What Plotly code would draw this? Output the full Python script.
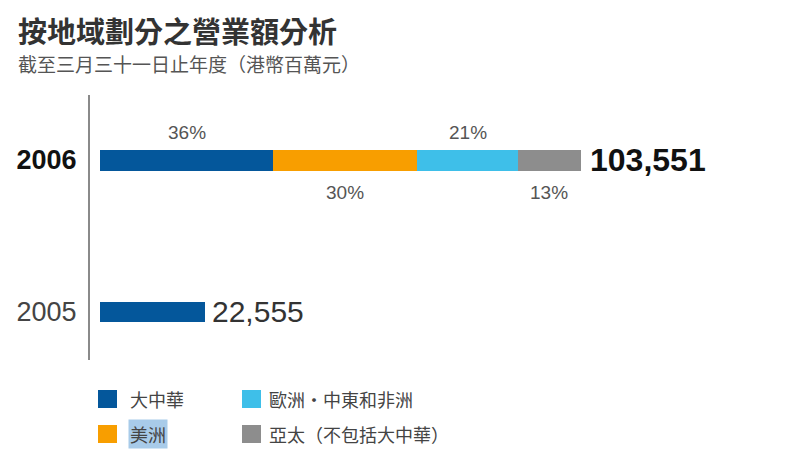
import plotly.graph_objects as go

# data
years = ["2005", "2006"]
regions = ["大中華", "美洲", "歐洲・中東和非洲", "亞太（不包括大中華）"]
totals = [22555, 103551]
pct_2006 = [36, 30, 21, 13]
colors = ["#04579b", "#f89e00", "#3ebfe9", "#8d8d8d"]

OFF = 8  # page body margin
W, H = 800, 470
L, R, T, B = 90 - OFF, 10, 95 - OFF, 110 + OFF
FONT = "Liberation Sans, Noto Sans CJK TC, sans-serif"
CJK = "Noto Sans CJK TC, sans-serif"


def px(x, y):
    """window pixel position -> paper coordinates"""
    x, y = x - OFF, y - OFF
    return (x - L) / (W - L - R), (H - B - y) / (H - T - B)


# segment values: 2005 only Greater China, 2006 split by share
seg = {regions[0]: [totals[0], totals[1] * pct_2006[0] / 100]}
for i, r in enumerate(regions[1:], start=1):
    seg[r] = [0, totals[1] * pct_2006[i] / 100]

fig = go.Figure()
for r, c in zip(regions, colors):
    fig.add_trace(go.Bar(y=years, x=seg[r], orientation="h", name=r,
                         marker=dict(color=c, line_width=0), width=0.138,
                         showlegend=False, hoverinfo="x+name"))

annotations = []
# percentage labels, alternating above / below
left = 0
for i, r in enumerate(regions):
    v = seg[r][1]
    annotations.append(dict(x=left + v / 2, y=1, xref="x", yref="y",
                            text=f"{pct_2006[i]}%", showarrow=False,
                            yshift=28 if i % 2 == 0 else -32,
                            font=dict(family=FONT, size=19, color="#555555")))
    left += v

# totals at bar ends
annotations.append(dict(x=totals[1], y=1, xref="x", yref="y", text=f"<b>{totals[1]:,}</b>",
                        showarrow=False, xanchor="left", xshift=7,
                        font=dict(family=FONT, size=32, color="#111111")))
annotations.append(dict(x=totals[0], y=0, xref="x", yref="y", text=f"{totals[0]:,}",
                        showarrow=False, xanchor="left", xshift=5,
                        font=dict(family=FONT, size=30, color="#333333")))

# title and subtitle
x0, y0 = px(17, OFF)
annotations.append(dict(x=x0, y=y0, xref="paper", yref="paper", xanchor="left", yanchor="top",
                        text="<b>按地域劃分之營業額分析</b>", showarrow=False, borderpad=0,
                        font=dict(family=CJK, size=29, color="#333333")))
x0, y0 = px(17, 63)
annotations.append(dict(x=x0, y=y0, xref="paper", yref="paper", xanchor="left", yanchor="middle",
                        text="截至三月三十一日止年度（港幣百萬元）", showarrow=False, borderpad=0,
                        font=dict(family=CJK, size=19, color="#555555")))

# legend: 2 x 2 grid of swatches
shapes = []
spots = [(98, 399), (98, 434), (242, 399), (242, 434)]
for (sx, sy), r, c in zip(spots, regions, colors):
    a0, b0 = px(sx, sy - 9)
    a1, b1 = px(sx + 19, sy + 9)
    shapes.append(dict(type="rect", xref="paper", yref="paper", x0=a0, x1=a1, y0=b0, y1=b1,
                       fillcolor=c, line_width=0))
    tx, ty = px(sx + (30 if sx < 200 else 25), sy)
    annotations.append(dict(x=tx, y=ty, xref="paper", yref="paper", xanchor="left", yanchor="middle",
                            text=r, showarrow=False,
                            bgcolor="#a8cbe9" if r == "美洲" else None,
                            font=dict(family=CJK, size=18, color="#444444")))

fig.update_layout(
    width=W, height=H,
    margin=dict(l=L, r=R, t=T, b=B),
    paper_bgcolor="white", plot_bgcolor="white",
    barmode="stack",
    xaxis=dict(range=[-2180, 150420], visible=False, fixedrange=True),
    yaxis=dict(type="category", range=[-0.316, 1.428], showgrid=False, zeroline=False,
               showline=True, linecolor="#8a8a8a", linewidth=2,
               tickvals=years,
               ticktext=["<span style='color:#444444'>2005</span>", "<b>2006</b>"],
               ticklabelstandoff=6,
               tickfont=dict(family=FONT, size=27, color="#111111")),
    annotations=annotations,
    shapes=shapes,
)

fig.write_html("out.html")
